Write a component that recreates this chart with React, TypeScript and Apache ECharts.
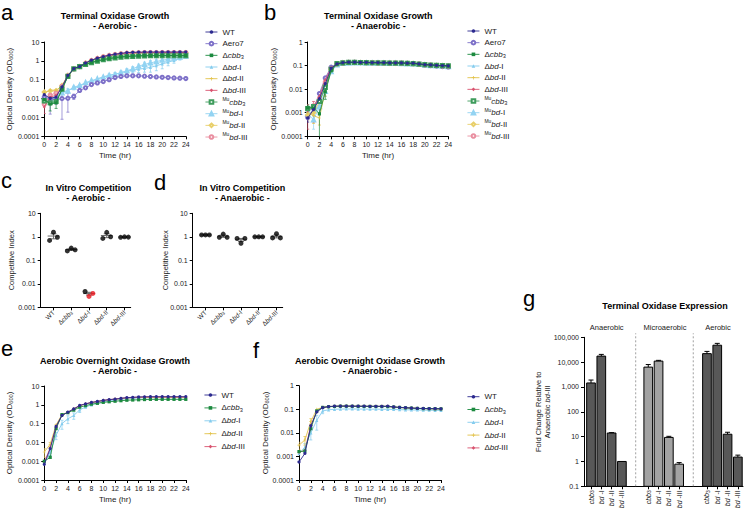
import React, { useEffect, useRef } from 'react';
import * as echarts from 'echarts';

const FONT = '"Liberation Sans", Arial, Helvetica, sans-serif';

// ---------- shared ----------
const HOURS = [0, 1, 2, 3, 4, 5, 6, 7, 8, 9, 10, 11, 12, 13, 14, 15, 16, 17, 18, 19, 20, 21, 22, 23, 24];
const TICKS_1E4_10 = ['0.0001', '0.001', '0.01', '0.1', '1', '10'];
const TICKS_1E4_1 = ['0.0001', '0.001', '0.01', '0.1', '1'];
const TICKS_1E3_10 = ['0.001', '0.01', '0.1', '1', '10'];
const TICKS_G = ['0.1', '1', '10', '100', '1,000', '10,000', '100,000'];

// ---------- panel a : Terminal Oxidase Growth, aerobic ----------
const A_WT = [0.016, 0.0104, 0.012, 0.042, 0.17, 0.39, 0.5, 0.78, 1.08, 1.4, 1.7, 2.0, 2.25, 2.5, 2.75, 2.85, 2.9, 2.95, 2.95, 2.95, 2.95, 2.95, 2.95, 2.95, 2.95];
const A_WT_SD = [0.008, 0.004, 0.004, 0.01, 0, 0, 0, 0, 0, 0, 0, 0, 0, 0, 0, 0, 0, 0, 0, 0, 0, 0, 0, 0, 0];
const A_AERO7 = [0.012, 0.0095, 0.009, 0.01, 0.0104, 0.013, 0.027, 0.037, 0.055, 0.068, 0.08, 0.1, 0.13, 0.15, 0.16, 0.16, 0.16, 0.155, 0.147, 0.14, 0.135, 0.13, 0.125, 0.12, 0.115];
const A_AERO7_SD = [0.006, 0.008, 0.004, 0.0092, 0.0085, 0.004, 0.004, 0, 0, 0, 0, 0, 0, 0, 0, 0, 0, 0, 0, 0, 0, 0, 0, 0, 0];
const A_CBB3 = [0.0089, 0.0052, 0.006, 0.03, 0.15, 0.39, 0.5, 0.66, 0.82, 1.0, 1.18, 1.33, 1.5, 1.63, 1.72, 1.8, 1.85, 1.88, 1.9, 1.9, 1.92, 1.92, 1.92, 1.92, 1.92];
const A_CBB3_SD = [0.003, 0.003, 0.003, 0, 0, 0, 0, 0, 0, 0, 0, 0, 0, 0, 0, 0, 0, 0, 0, 0, 0, 0, 0, 0, 0];
const A_BD1 = [0.01, 0.009, 0.012, 0.022, 0.027, 0.037, 0.045, 0.068, 0.083, 0.11, 0.14, 0.17, 0.2, 0.23, 0.28, 0.33, 0.36, 0.4, 0.45, 0.55, 0.68, 0.85, 1.05, 1.35, 1.6];
const A_BD1_SD = [0, 0, 0, 0.006, 0.006, 0.008, 0.01, 0, 0, 0, 0, 0.03, 0.04, 0.05, 0.08, 0.1, 0.12, 0.15, 0.2, 0.25, 0.3, 0.3, 0.3, 0.25, 0.2];
const A_BD2 = [0.02, 0.028, 0.028, 0.045, 0.17, 0.38, 0.5, 0.75, 1.02, 1.33, 1.62, 1.9, 2.1, 2.3, 2.45, 2.55, 2.6, 2.65, 2.65, 2.65, 2.65, 2.65, 2.65, 2.65, 2.65];
const A_BD3 = [0.0036, 0.012, 0.015, 0.04, 0.16, 0.38, 0.5, 0.76, 1.05, 1.36, 1.65, 1.95, 2.2, 2.4, 2.6, 2.7, 2.75, 2.8, 2.8, 2.8, 2.8, 2.8, 2.8, 2.8, 2.8];
const A_BD3_SD = [0.002, 0.006, 0, 0, 0, 0, 0, 0, 0, 0, 0, 0, 0, 0, 0, 0, 0, 0, 0, 0, 0, 0, 0, 0, 0];
const A_MUCBB3 = [0.0075, 0.006, 0.007, 0.032, 0.15, 0.38, 0.5, 0.64, 0.8, 0.97, 1.15, 1.3, 1.45, 1.58, 1.68, 1.75, 1.8, 1.85, 1.87, 1.88, 1.9, 1.9, 1.9, 1.9, 1.9];
const A_MUBD1 = [0.012, 0.01, 0.013, 0.02, 0.025, 0.04, 0.05, 0.07, 0.09, 0.11, 0.14, 0.17, 0.19, 0.24, 0.3, 0.38, 0.52, 0.65, 0.78, 0.92, 1.08, 1.22, 1.39, 1.55, 1.77];
const A_MUBD1_SD = [0, 0, 0, 0, 0, 0, 0, 0, 0, 0, 0, 0, 0.03, 0.05, 0.08, 0.12, 0.15, 0.2, 0.25, 0.3, 0.35, 0.35, 0.3, 0.3, 0.25];
const A_MUBD2 = [0.022, 0.025, 0.026, 0.05, 0.17, 0.38, 0.5, 0.76, 1.03, 1.35, 1.65, 1.92, 2.15, 2.35, 2.5, 2.6, 2.65, 2.7, 2.7, 2.7, 2.7, 2.7, 2.7, 2.7, 2.7];
const A_MUBD3 = [0.005, 0.015, 0.02, 0.045, 0.16, 0.37, 0.5, 0.75, 1.04, 1.35, 1.64, 1.93, 2.15, 2.35, 2.55, 2.65, 2.7, 2.75, 2.75, 2.75, 2.75, 2.75, 2.75, 2.75, 2.75];

// ---------- panel b : Terminal Oxidase Growth, anaerobic ----------
const B_WT = [0.0006, 0.00135, 0.004, 0.017, 0.077, 0.118, 0.134, 0.14, 0.14, 0.137, 0.137, 0.134, 0.134, 0.133, 0.13, 0.13, 0.13, 0.126, 0.126, 0.118, 0.11, 0.107, 0.103, 0.1, 0.097];
const B_WT_SD = [0.0002, 0.0004, 0.002, 0.008, 0.015, 0, 0, 0, 0, 0, 0, 0, 0, 0, 0, 0, 0, 0, 0, 0, 0, 0, 0, 0, 0];
const B_AERO7 = [0.00062, 0.0015, 0.0065, 0.03, 0.085, 0.12, 0.13, 0.136, 0.137, 0.135, 0.134, 0.132, 0.131, 0.13, 0.128, 0.128, 0.127, 0.124, 0.122, 0.115, 0.106, 0.1, 0.095, 0.091, 0.088];
const B_CBB3 = [0.0016, 0.0016, 0.0009, 0.0077, 0.06, 0.118, 0.13, 0.135, 0.137, 0.135, 0.134, 0.132, 0.131, 0.13, 0.128, 0.128, 0.127, 0.125, 0.123, 0.117, 0.11, 0.106, 0.102, 0.1, 0.098];
const B_CBB3_SD = [0.0005, 0.0006, 0.00089, 0.004, 0, 0, 0, 0, 0, 0, 0, 0, 0, 0, 0, 0, 0, 0, 0, 0, 0, 0, 0, 0, 0];
const B_BD1 = [0.0012, 0.0008, 0.0022, 0.012, 0.06, 0.11, 0.125, 0.13, 0.131, 0.13, 0.129, 0.128, 0.127, 0.126, 0.125, 0.124, 0.122, 0.12, 0.118, 0.112, 0.105, 0.1, 0.097, 0.095, 0.092];
const B_BD2 = [0.001, 0.00075, 0.0006, 0.009, 0.065, 0.115, 0.13, 0.134, 0.136, 0.134, 0.133, 0.131, 0.13, 0.129, 0.127, 0.127, 0.126, 0.123, 0.121, 0.115, 0.108, 0.104, 0.1, 0.098, 0.096];
const B_BD2_SD = [0.0005, 0.0004, 0.0003, 0.004, 0, 0, 0, 0, 0, 0, 0, 0, 0, 0, 0, 0, 0, 0, 0, 0, 0, 0, 0, 0, 0];
const B_BD3 = [0.0012, 0.0017, 0.005, 0.025, 0.08, 0.12, 0.132, 0.137, 0.138, 0.136, 0.135, 0.133, 0.132, 0.131, 0.129, 0.129, 0.128, 0.125, 0.123, 0.116, 0.109, 0.105, 0.101, 0.099, 0.097];
const B_BD3_SD = [0.001, 0.0013, 0, 0, 0, 0, 0, 0, 0, 0, 0, 0, 0, 0, 0, 0, 0, 0, 0, 0, 0, 0, 0, 0, 0];
const B_MUCBB3 = [0.0015, 0.0018, 0.003, 0.012, 0.07, 0.12, 0.131, 0.136, 0.137, 0.135, 0.134, 0.132, 0.131, 0.13, 0.128, 0.128, 0.127, 0.124, 0.122, 0.116, 0.109, 0.105, 0.101, 0.099, 0.097];
const B_MUBD1 = [0.0009, 0.0005, 0.0018, 0.008, 0.055, 0.108, 0.123, 0.128, 0.13, 0.129, 0.128, 0.127, 0.126, 0.125, 0.124, 0.123, 0.121, 0.119, 0.117, 0.111, 0.104, 0.1, 0.096, 0.094, 0.091];
const B_MUBD1_SD = [0.0004, 0.0003, 0.001, 0.003, 0, 0, 0, 0, 0, 0, 0, 0, 0, 0, 0, 0, 0, 0, 0, 0, 0, 0, 0, 0, 0];
const B_MUBD2 = [0.0008, 0.001, 0.003, 0.015, 0.07, 0.118, 0.13, 0.135, 0.136, 0.134, 0.133, 0.131, 0.13, 0.129, 0.127, 0.127, 0.126, 0.123, 0.121, 0.115, 0.108, 0.104, 0.1, 0.098, 0.096];
const B_MUBD3 = [0.0015, 0.002, 0.004, 0.02, 0.075, 0.12, 0.131, 0.136, 0.137, 0.135, 0.134, 0.132, 0.131, 0.13, 0.128, 0.128, 0.127, 0.124, 0.122, 0.116, 0.109, 0.105, 0.101, 0.099, 0.097];

// ---------- panels c, d : In Vitro Competition ----------
const COMP_CATEGORIES = ['WT', 'Δcbb3', 'Δbd-I', 'Δbd-II', 'Δbd-III'];
const C_WT = [0.7, 1.57, 0.96];
const C_CBB3 = [0.25, 0.33, 0.28];
const C_BD1 = [0.0047, 0.0029, 0.0039];
const C_BD2 = [0.85, 1.55, 1.0];
const C_BD3 = [0.95, 1.0, 0.97];
const D_WT = [1.2, 1.2, 1.2];
const D_CBB3 = [0.95, 1.3, 0.95];
const D_BD1 = [0.85, 0.53, 0.85];
const D_BD2 = [1.0, 1.0, 1.0];
const D_BD3 = [0.9, 1.35, 0.9];
const C_BD1_POINT_COLORS = ['#000000', '#e8141b', '#e8141b'];

// ---------- panel e : Overnight, aerobic ----------
const E_WT = [0.00068, 0.0047, 0.071, 0.27, 0.41, 0.6, 0.92, 1.13, 1.33, 1.5, 1.7, 1.9, 2.0, 2.2, 2.4, 2.5, 2.6, 2.65, 2.7, 2.7, 2.7, 2.7, 2.7, 2.7, 2.7];
const E_CBB3 = [0.001, 0.0016, 0.054, 0.3, 0.38, 0.52, 0.75, 0.9, 1.08, 1.2, 1.35, 1.45, 1.55, 1.65, 1.75, 1.8, 1.85, 1.9, 1.95, 1.95, 1.95, 1.95, 1.95, 1.95, 1.95];
const E_BD1 = [0.0008, 0.003, 0.024, 0.1, 0.18, 0.27, 0.54, 0.75, 1.0, 1.2, 1.45, 1.6, 1.8, 1.95, 2.1, 2.2, 2.3, 2.35, 2.4, 2.4, 2.4, 2.4, 2.4, 2.4, 2.4];
const E_BD1_SD = [0, 0.001, 0.01, 0.05, 0.08, 0.1, 0.15, 0, 0, 0, 0, 0, 0, 0, 0, 0, 0, 0, 0, 0, 0, 0, 0, 0, 0];
const E_BD2 = [0.0031, 0.008, 0.085, 0.3, 0.4, 0.6, 0.9, 1.1, 1.3, 1.5, 1.7, 1.85, 2.0, 2.15, 2.3, 2.4, 2.45, 2.5, 2.5, 2.5, 2.5, 2.5, 2.5, 2.5, 2.5];
const E_BD2_SD = [0.0015, 0.002, 0, 0, 0, 0, 0, 0, 0, 0, 0, 0, 0, 0, 0, 0, 0, 0, 0, 0, 0, 0, 0, 0, 0];
const E_BD3 = [0.0009, 0.005, 0.065, 0.28, 0.4, 0.6, 0.92, 1.12, 1.32, 1.5, 1.7, 1.88, 2.0, 2.2, 2.35, 2.45, 2.55, 2.6, 2.6, 2.6, 2.6, 2.6, 2.6, 2.6, 2.6];

// ---------- panel f : Overnight, anaerobic ----------
const F_WT = [0.00058, 0.00134, 0.02, 0.077, 0.117, 0.13, 0.135, 0.137, 0.137, 0.136, 0.135, 0.135, 0.134, 0.134, 0.134, 0.135, 0.125, 0.12, 0.117, 0.113, 0.11, 0.108, 0.107, 0.106, 0.105];
const F_CBB3 = [0.0016, 0.0017, 0.015, 0.085, 0.12, 0.128, 0.132, 0.135, 0.135, 0.134, 0.133, 0.132, 0.132, 0.131, 0.131, 0.13, 0.124, 0.12, 0.115, 0.112, 0.109, 0.107, 0.106, 0.105, 0.104];
const F_BD1 = [0.0013, 0.0025, 0.01, 0.034, 0.085, 0.095, 0.1, 0.102, 0.103, 0.103, 0.102, 0.102, 0.101, 0.101, 0.1, 0.1, 0.098, 0.096, 0.095, 0.094, 0.093, 0.092, 0.091, 0.09, 0.09];
const F_BD1_SD = [0, 0.001, 0.005, 0.021, 0.02, 0, 0, 0, 0, 0, 0, 0, 0, 0, 0, 0, 0, 0, 0, 0, 0, 0, 0, 0, 0];
const F_BD2 = [0.003, 0.005, 0.03, 0.1, 0.12, 0.13, 0.133, 0.135, 0.135, 0.134, 0.133, 0.133, 0.132, 0.132, 0.132, 0.132, 0.124, 0.119, 0.115, 0.112, 0.109, 0.107, 0.106, 0.105, 0.104];
const F_BD2_SD = [0.001, 0.002, 0.01, 0, 0, 0, 0, 0, 0, 0, 0, 0, 0, 0, 0, 0, 0, 0, 0, 0, 0, 0, 0, 0, 0];
const F_BD3 = [0.0015, 0.0018, 0.02, 0.08, 0.118, 0.13, 0.134, 0.136, 0.136, 0.135, 0.134, 0.134, 0.133, 0.133, 0.133, 0.134, 0.125, 0.12, 0.116, 0.112, 0.109, 0.107, 0.106, 0.105, 0.104];

// ---------- panel g : Terminal Oxidase Expression ----------
const G_CONDITIONS = ['Anaerobic', 'Microaerobic', 'Aerobic'];
const G_GENES = ['cbb3', 'bd-I', 'bd-II', 'bd-III'];
const G_ANAEROBIC = [1450, 17500, 14, 1];
const G_ANAEROBIC_SD = [450, 3000, 0.5, 0];
const G_MICROAEROBIC = [6300, 11000, 9.3, 0.78];
const G_MICROAEROBIC_SD = [1700, 800, 1.0, 0.12];
const G_AEROBIC = [22000, 48000, 12.5, 1.5];
const G_AEROBIC_SD = [5000, 9000, 2.5, 0.3];

// ---------- styling ----------
const PLUS = 'path://M4,0H6V4H10V6H6V10H4V6H0V4H4Z';
const STYLES: Record<string, { color: string; symbol: string; z: number }> = {
  'WT': { color: '#2c2a8f', symbol: 'circle', z: 12 },
  'Aero7': { color: '#7d70c8', symbol: 'emptyCircle', z: 6 },
  'Δcbb3': { color: '#1c8a3f', symbol: 'rect', z: 10 },
  'Δbd-I': { color: '#84ccee', symbol: 'triangle', z: 4 },
  'Δbd-II': { color: '#e2c24a', symbol: PLUS, z: 7 },
  'Δbd-III': { color: '#d9536f', symbol: 'diamond', z: 8 },
  'Mucbb3': { color: '#3e9c5c', symbol: 'emptyRect', z: 9 },
  'Mubd-I': { color: '#92d3f2', symbol: 'emptyTriangle', z: 5 },
  'Mubd-II': { color: '#e8cf6a', symbol: 'emptyDiamond', z: 7 },
  'Mubd-III': { color: '#e98ea0', symbol: 'emptyCircle', z: 7 },
};
const RICH_NAME: Record<string, string> = {
  'WT': 'WT',
  'Aero7': 'Aero7',
  'Δcbb3': 'Δ{i|cbb}{s|3}',
  'Δbd-I': 'Δ{i|bd}-I',
  'Δbd-II': 'Δ{i|bd}-II',
  'Δbd-III': 'Δ{i|bd}-III',
  'Mucbb3': '{u|Mu}{i|cbb}{s|3}',
  'Mubd-I': '{u|Mu}{i|bd}-I',
  'Mubd-II': '{u|Mu}{i|bd}-II',
  'Mubd-III': '{u|Mu}{i|bd}-III',
};
const G_RICH_GENE: Record<string, string> = {
  'cbb3': '{i|cbb}{s|3}',
  'bd-I': '{i|bd} -I',
  'bd-II': '{i|bd} -II',
  'bd-III': '{i|bd} -III',
};

type Row = [string, number[], number[] | null];
const PANEL_A: Row[] = [
  ['Δbd-I', A_BD1, A_BD1_SD], ['Mubd-I', A_MUBD1, A_MUBD1_SD], ['Aero7', A_AERO7, A_AERO7_SD],
  ['Mubd-II', A_MUBD2, null], ['Mubd-III', A_MUBD3, null], ['Δbd-II', A_BD2, null], ['Δbd-III', A_BD3, A_BD3_SD],
  ['Mucbb3', A_MUCBB3, null], ['Δcbb3', A_CBB3, A_CBB3_SD], ['WT', A_WT, A_WT_SD],
];
const PANEL_B: Row[] = [
  ['Δbd-I', B_BD1, null], ['Mubd-I', B_MUBD1, B_MUBD1_SD], ['Aero7', B_AERO7, null],
  ['Mubd-II', B_MUBD2, null], ['Mubd-III', B_MUBD3, null], ['Δbd-II', B_BD2, B_BD2_SD], ['Δbd-III', B_BD3, B_BD3_SD],
  ['Mucbb3', B_MUCBB3, null], ['Δcbb3', B_CBB3, B_CBB3_SD], ['WT', B_WT, B_WT_SD],
];
const PANEL_E: Row[] = [
  ['Δbd-I', E_BD1, E_BD1_SD], ['Δbd-II', E_BD2, E_BD2_SD], ['Δbd-III', E_BD3, null], ['Δcbb3', E_CBB3, null], ['WT', E_WT, null],
];
const PANEL_F: Row[] = [
  ['Δbd-I', F_BD1, F_BD1_SD], ['Δbd-II', F_BD2, F_BD2_SD], ['Δbd-III', F_BD3, null], ['Δcbb3', F_CBB3, null], ['WT', F_WT, null],
];
const LEGEND_A = ['WT', 'Aero7', 'Δcbb3', 'Δbd-I', 'Δbd-II', 'Δbd-III', 'Mucbb3', 'Mubd-I', 'Mubd-II', 'Mubd-III'];
const LEGEND_E = ['WT', 'Δcbb3', 'Δbd-I', 'Δbd-II', 'Δbd-III'];

// layout constants
const JITTER = [-0.22, 0, 0.22];
const G_GROUP_START = [0, 5.56, 11.26];
const G_SEPARATORS = [4.34, 9.93];
const G_COLORS = ['#585858', '#a3a3a3', '#585858'];
const LEGEND_ROW_H = 10;
const TEXT = '#1a1a1a';

const richSmall = (fs: number, lh: number) => ({
  i: { fontStyle: 'italic', fontSize: fs, lineHeight: lh, fontFamily: FONT, color: TEXT },
  s: { fontSize: fs * 0.7, lineHeight: fs * 0.7, verticalAlign: 'bottom', fontFamily: FONT, color: TEXT },
  u: { fontSize: fs * 0.62, lineHeight: fs * 0.62, verticalAlign: 'top', fontFamily: FONT, color: TEXT },
});

const logLabel = (labels: string[]) => (v: number) => {
  const hit = labels.find((l) => Math.abs(Math.log10(Number(l.replace(/,/g, ''))) - Math.log10(v)) < 1e-6);
  return hit ?? '';
};

const AXIS_LINE = { show: true, onZero: false, lineStyle: { color: '#000', width: 1 } };
const AXIS_TICK = { show: true, length: 3, lineStyle: { color: '#000', width: 1 } };
const LABEL = { fontSize: 7, color: TEXT, fontFamily: FONT };

function growthX(idx: number) {
  return {
    type: 'value', gridIndex: idx, min: 0, max: 24, interval: 2,
    axisLine: AXIS_LINE, axisTick: AXIS_TICK, splitLine: { show: false },
    axisLabel: { ...LABEL, margin: 5 },
    name: 'Time (hr)', nameLocation: 'middle', nameGap: 15, nameMoveOverlap: false,
    nameTextStyle: { fontSize: 8, color: TEXT, fontFamily: FONT },
  };
}
function logY(idx: number, min: number, max: number, ticks: string[], name: string, gap: number, fs: number) {
  return {
    type: 'log', logBase: 10, gridIndex: idx, min, max,
    axisLine: AXIS_LINE, axisTick: AXIS_TICK, splitLine: { show: false }, minorTick: { show: false },
    axisLabel: { ...LABEL, margin: 5, formatter: logLabel(ticks) },
    name, nameLocation: 'middle', nameGap: gap, nameMoveOverlap: false,
    nameTextStyle: { fontSize: fs, color: TEXT, fontFamily: FONT, lineHeight: 9, rich: richSmall(fs, 9) },
  };
}

function errRender(color: string) {
  return (params: any, api: any) => {
    const x = api.value(0);
    const v = api.value(1);
    const s = api.value(2);
    const lo = api.coord([x, Math.max(v - s, 1e-7)]);
    const hi = api.coord([x, v + s]);
    const st = { stroke: color, lineWidth: 0.7 };
    return {
      type: 'group',
      children: [
        { type: 'line', shape: { x1: lo[0], y1: lo[1], x2: hi[0], y2: hi[1] }, style: st },
        { type: 'line', shape: { x1: hi[0] - 1.5, y1: hi[1], x2: hi[0] + 1.5, y2: hi[1] }, style: st },
        { type: 'line', shape: { x1: lo[0] - 1.5, y1: lo[1], x2: lo[0] + 1.5, y2: lo[1] }, style: st },
      ],
    };
  };
}

function growthSeries(idx: number, rows: Row[]) {
  const out: any[] = [];
  rows.forEach(([name, vals, sd]) => {
    const st = STYLES[name];
    if (sd) {
      out.push({
        type: 'custom', name: name + ' SD', xAxisIndex: idx, yAxisIndex: idx, clip: true, silent: true, z: 1,
        encode: { x: 0, y: 1 },
        data: HOURS.map((h, i) => [h, vals[i], sd[i]]).filter((d) => d[2] > 0),
        renderItem: errRender(st.color),
      });
    }
    out.push({
      type: 'line', name, xAxisIndex: idx, yAxisIndex: idx, silent: true, z: st.z,
      data: HOURS.map((h, i) => [h, vals[i]]),
      symbol: st.symbol, symbolSize: 3.2, showSymbol: true,
      itemStyle: { color: st.color, borderWidth: 0.8 },
      lineStyle: { color: st.color, width: 0.9 },
      emphasis: { disabled: true },
    });
  });
  return out;
}

function mean(a: number[]) { return a.reduce((s, x) => s + x, 0) / a.length; }
function sem(a: number[]) {
  const m = mean(a);
  const sd = Math.sqrt(a.reduce((s, x) => s + (x - m) * (x - m), 0) / (a.length - 1));
  return sd / Math.sqrt(a.length);
}

function compSeries(idx: number, groups: number[][], pointColors: (string[] | null)[]) {
  const summary = groups.map((g, i) => [i, mean(g), sem(g)]);
  const pts: any[] = [];
  groups.forEach((g, i) => g.forEach((v, j) => {
    pts.push({ value: [i + JITTER[j], v], itemStyle: { color: pointColors[i] ? pointColors[i]![j] : '#000' } });
  }));
  return [
    {
      type: 'custom', xAxisIndex: idx, yAxisIndex: idx, silent: true, z: 2, encode: { x: 0, y: 1 },
      data: summary,
      renderItem: (params: any, api: any) => {
        const x = api.value(0), m = api.value(1), s = api.value(2);
        const c = api.coord([x, m]);
        const l = api.coord([x - 0.33, m]);
        const r = api.coord([x + 0.33, m]);
        const lo = api.coord([x, Math.max(m - s, 1e-7)]);
        const hi = api.coord([x, m + s]);
        const st = { stroke: '#6a6a6a', lineWidth: 1 };
        return {
          type: 'group', children: [
            { type: 'line', shape: { x1: l[0], y1: c[1], x2: r[0], y2: c[1] }, style: st },
            { type: 'line', shape: { x1: c[0], y1: lo[1], x2: c[0], y2: hi[1] }, style: st },
            { type: 'line', shape: { x1: c[0] - 3, y1: lo[1], x2: c[0] + 3, y2: lo[1] }, style: st },
            { type: 'line', shape: { x1: c[0] - 3, y1: hi[1], x2: c[0] + 3, y2: hi[1] }, style: st },
          ],
        };
      },
    },
    {
      type: 'scatter', xAxisIndex: idx, yAxisIndex: idx, silent: true, z: 3,
      symbol: 'circle', symbolSize: 5, data: pts,
    },
  ];
}

function compX(idx: number) {
  const vals = COMP_CATEGORIES.map((_, i) => i);
  return {
    type: 'value', gridIndex: idx, min: -0.72, max: 4.35,
    axisLine: AXIS_LINE, axisTick: { ...AXIS_TICK, customValues: vals }, splitLine: { show: false },
    axisLabel: {
      ...LABEL, fontSize: 6.5, rotate: 45, margin: 4, customValues: vals,
      formatter: (v: number) => { const i = Math.round(v); return RICH_NAME[COMP_CATEGORIES[i]] ?? ''; },
      rich: richSmall(6.5, 8),
    },
  };
}

function buildOption() {
  const G_POS: number[] = [];
  G_GROUP_START.forEach((s) => G_GENES.forEach((_, j) => G_POS.push(s + j)));
  const G_VALUES = [G_ANAEROBIC, G_MICROAEROBIC, G_AEROBIC];
  const G_SDS = [G_ANAEROBIC_SD, G_MICROAEROBIC_SD, G_AEROBIC_SD];

  const grids = [
    { left: 44.3, top: 42, width: 141.5, height: 94.3 },
    { left: 307.7, top: 42, width: 140.6, height: 94.3 },
    { left: 40.7, top: 213.3, width: 90, height: 94 },
    { left: 192.7, top: 213.3, width: 90, height: 94 },
    { left: 44.3, top: 386, width: 141.5, height: 94 },
    { left: 299, top: 385.7, width: 142, height: 94.3 },
    { left: 584, top: 337.3, width: 159, height: 149 },
  ].map((g) => ({ ...g, containLabel: false, outerBoundsMode: 'none', show: false }));

  const xAxis: any[] = [
    growthX(0), growthX(1), compX(2), compX(3), growthX(4), growthX(5),
    {
      type: 'value', gridIndex: 6, min: -0.68, max: 14.76,
      axisLine: AXIS_LINE, axisTick: { ...AXIS_TICK, customValues: G_POS }, splitLine: { show: false },
      axisLabel: {
        ...LABEL, rotate: 90, margin: 4, customValues: G_POS,
        formatter: (v: number) => {
          const i = G_POS.findIndex((p) => Math.abs(p - v) < 1e-6);
          return i < 0 ? '' : G_RICH_GENE[G_GENES[i % 4]];
        },
        rich: richSmall(7, 8),
      },
    },
  ];
  const yAxis: any[] = [
    logY(0, 0.0001, 10, TICKS_1E4_10, 'Optical Density (OD{s|600})', 30, 8),
    logY(1, 0.0001, 1, TICKS_1E4_1, 'Optical Density (OD{s|600})', 30, 8),
    logY(2, 0.001, 10, TICKS_1E3_10, 'Competitive Index', 25, 7.5),
    logY(3, 0.001, 10, TICKS_1E3_10, 'Competitive Index', 23, 7.5),
    logY(4, 0.0001, 10, TICKS_1E4_10, 'Optical Density (OD{s|600})', 30, 8),
    logY(5, 0.0001, 1, TICKS_1E4_1, 'Optical Density (OD{s|600})', 29.5, 8),
    logY(6, 0.1, 100000, TICKS_G, 'Fold Change Relative to\nAnaerobic {i|bd}-III', 32, 7.5),
  ];

  const series: any[] = [
    ...growthSeries(0, PANEL_A),
    ...growthSeries(1, PANEL_B),
    ...compSeries(2, [C_WT, C_CBB3, C_BD1, C_BD2, C_BD3], [null, null, C_BD1_POINT_COLORS, null, null]),
    ...compSeries(3, [D_WT, D_CBB3, D_BD1, D_BD2, D_BD3], [null, null, null, null, null]),
    ...growthSeries(4, PANEL_E),
    ...growthSeries(5, PANEL_F),
  ];
  // panel g bars
  G_CONDITIONS.forEach((cond, gi) => {
    const color = G_COLORS[gi];
    series.push({
      type: 'custom', name: cond, xAxisIndex: 6, yAxisIndex: 6, silent: true, z: 3,
      encode: { x: 0, y: 1 },
      data: G_VALUES[gi].map((v, j) => [G_POS[gi * 4 + j], v, G_SDS[gi][j]]),
      renderItem: (params: any, api: any) => {
        const x = api.value(0), v = api.value(1), s = api.value(2);
        const top = api.coord([x, v]);
        const base = api.coord([x, 0.1]);
        const l = api.coord([x - 0.47, v])[0];
        const r = api.coord([x + 0.47, v])[0];
        const children: any[] = [];
        if (s > 0) {
          const et = api.coord([x, v + s]);
          children.push({ type: 'line', shape: { x1: top[0], y1: top[1], x2: et[0], y2: et[1] }, style: { stroke: '#000', lineWidth: 1 } });
          children.push({ type: 'line', shape: { x1: top[0] - 2.5, y1: et[1], x2: top[0] + 2.5, y2: et[1] }, style: { stroke: '#000', lineWidth: 1 } });
        }
        children.push({
          type: 'rect', shape: { x: l + 0.5, y: top[1], width: r - l - 1, height: base[1] - top[1] },
          style: { fill: color, stroke: '#000', lineWidth: 1 },
        });
        return { type: 'group', children };
      },
    });
  });
  series.push({
    type: 'custom', xAxisIndex: 6, yAxisIndex: 6, silent: true, z: 1, encode: { x: 0 },
    data: G_SEPARATORS.map((x) => [x]),
    renderItem: (params: any, api: any) => {
      const x = api.value(0);
      const a = api.coord([x, 0.1]);
      const b = api.coord([x, 145000]);
      return { type: 'line', shape: { x1: a[0], y1: a[1], x2: b[0], y2: b[1] }, style: { stroke: '#888', lineWidth: 0.8, lineDash: [2, 2] } };
    },
  });

  // one legend component per row so each row sits exactly where the reference has it
  const legendRows = (left: number, firstCenter: number, step: number, names: string[]) =>
    names.map((n, k) => ({
      orient: 'vertical', left, top: firstCenter + k * step - LEGEND_ROW_H / 2, padding: 0,
      itemWidth: 12, itemHeight: 4.5, itemGap: 0, selectedMode: false,
      lineStyle: { width: 0.9 }, itemStyle: { borderWidth: 0.8 },
      data: [n], formatter: (nm: string) => RICH_NAME[nm] ?? nm,
      textStyle: { fontSize: 8, color: TEXT, fontFamily: FONT, lineHeight: LEGEND_ROW_H, rich: richSmall(8, LEGEND_ROW_H) },
    }));
  const legend = [
    ...legendRows(205, 32, 11.67, LEGEND_A),
    ...legendRows(467, 31, 11.67, LEGEND_A),
    ...legendRows(204, 395, 12.9, LEGEND_E),
    ...legendRows(467, 396.7, 12.8, LEGEND_E),
  ];

  const LETTER_FS = 22;
  const letter = (t: string, x: number, baseline: number) => ({
    type: 'text', x, y: baseline - 0.35 * LETTER_FS, silent: true,
    style: { text: t, font: `${LETTER_FS}px ${FONT}`, fill: '#000', align: 'left', verticalAlign: 'middle', textAlign: 'left', textVerticalAlign: 'middle' },
  });
  const title = (t: string, x: number, y: number) => ({
    type: 'text', x, y, silent: true,
    style: { text: t, font: `bold 9px ${FONT}`, lineHeight: 10, fill: '#000', align: 'center', verticalAlign: 'middle', textAlign: 'center', textVerticalAlign: 'middle' },
  });
  const small = (t: string, x: number, y: number) => ({
    type: 'text', x, y, silent: true,
    style: { text: t, font: `7.5px ${FONT}`, fill: TEXT, align: 'center', verticalAlign: 'middle', textAlign: 'center', textVerticalAlign: 'middle' },
  });
  const graphic = [
    letter('a', 1, 20), letter('b', 264, 20.5), letter('c', 1, 188), letter('d', 154, 190),
    letter('e', 1, 356), letter('f', 253, 358), letter('g', 523, 306),
    title('Terminal Oxidase Growth\n- Aerobic -', 115, 20.7),
    title('Terminal Oxidase Growth\n- Anaerobic -', 378.3, 20.7),
    title('In Vitro Competition\n- Aerobic -', 88.3, 193.3),
    title('In Vitro Competition\n- Anaerobic -', 242.3, 193.3),
    title('Aerobic Overnight Oxidase Growth\n- Aerobic -', 115, 365.8),
    title('Aerobic Overnight Oxidase Growth\n- Anaerobic -', 370, 365.8),
    title('Terminal Oxidase Expression', 665, 306),
    small(G_CONDITIONS[0], 606.7, 327.7),
    small(G_CONDITIONS[1], 665, 327.7),
    small(G_CONDITIONS[2], 718, 327.7),
  ];

  return {
    animation: false,
    backgroundColor: '#ffffff',
    textStyle: { fontFamily: FONT },
    grid: grids, xAxis, yAxis, series, legend, graphic,
  };
}

export default function App() {
  const ref = useRef<HTMLDivElement>(null);
  useEffect(() => {
    document.body.style.margin = '0';
    const chart = echarts.init(ref.current!, null, { renderer: 'svg', width: 750, height: 510 });
    chart.setOption(buildOption() as any);
    return () => chart.dispose();
  }, []);
  return <div ref={ref} style={{ width: 750, height: 510 }} />;
}
